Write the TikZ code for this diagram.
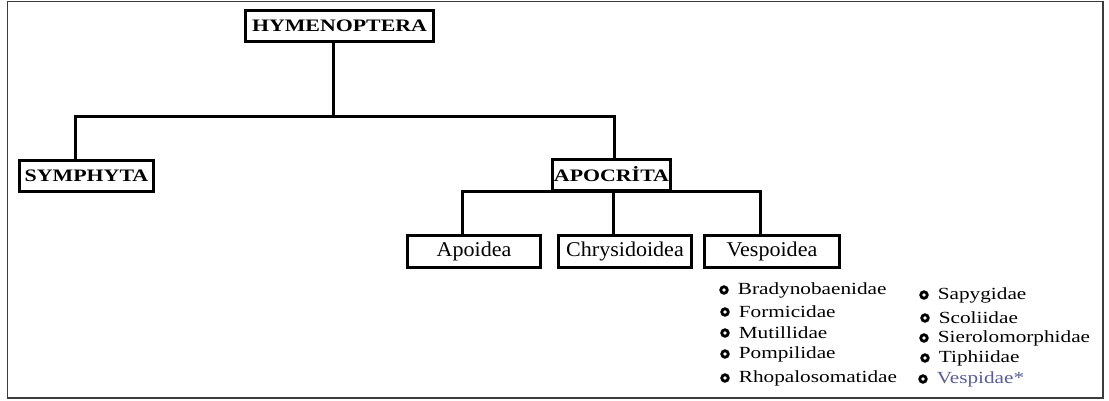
\documentclass[tikz,border=0pt]{standalone}
\usepackage{fontspec}
\setmainfont{Liberation Serif}
\newfontfamily\rankfont[FakeStretch=1.25]{Liberation Serif}
\newfontfamily\widefont[FakeStretch=1.05]{Liberation Serif}
\newfontfamily\listfont[FakeStretch=1.25]{Liberation Serif}
\usetikzlibrary{positioning}
\definecolor{framegray}{HTML}{3C3C3C}
\definecolor{starred}{HTML}{5A5E96}
\tikzset{
  % Upper ranks: bold capitals in a heavy box
  rankbox/.style={
    draw=black, line width=3pt, fill=white, inner sep=1pt,
    font=\rankfont\fontsize{17.5}{20}\selectfont\bfseries,
    minimum height=31pt, minimum width=#1},
  % Superfamilies: plain text in a heavy box
  superbox/.style={
    draw=black, line width=3pt, fill=white, inner sep=1pt,
    font=\widefont\fontsize{21}{24}\selectfont,
    minimum height=32pt, minimum width=#1},
  % Families listed under Vespoidea
  ring/.style={circle, draw=black, line width=2.8pt, minimum size=6.5pt, inner sep=0pt},
  fam/.style={font=\listfont\fontsize{17}{19}\selectfont, inner sep=1pt, anchor=west},
  link/.style={draw=black, line width=3pt},
}

\begin{document}
\begin{tikzpicture}[x=1pt, y=-1pt]

  \useasboundingbox (0,0) rectangle (1109,400);
  \draw[framegray, line width=1.4pt] (7.5,1.5) rectangle (1103,398);

  \node[rankbox=188pt] (hym) at (339.5,25.5) {HYMENOPTERA};
  \node[rankbox=134pt] (sym) at (86.5,176) {SYMPHYTA};
  \node[rankbox=118pt] (apo) at (611.5,174.5) {APOCRİTA};

  \node[superbox=133pt] (apoi) at (474,251) {Apoidea};
  \node[superbox=133pt] (chry) at (625,251) {Chrysidoidea};
  \node[superbox=135pt] (vesp) at (772,251.5) {Vespoidea};

  % first split
  \coordinate (split) at (333,116);
  \draw[link] (hym.south -| split) -- (split);
  \draw[link] ([xshift=-11.5pt]sym.north) |- (split) -| ([xshift=2.5pt]apo.north);

  % second split
  \draw[link] ([xshift=-12pt]apoi.north) |- (apo.south) -| ([xshift=-12pt]vesp.north);
  \draw[link] ([xshift=-12pt]chry.north |- apo.south) -- ([xshift=-12pt]chry.north);

  % families, two columns
  \foreach \fname/\bx/\by [count=\i] in {
      Bradynobaenidae/724/290, Formicidae/725/312, Mutillidae/725/333,
      Pompilidae/725/354, Rhopalosomatidae/725/378,
      Sapygidae/924/295, Scoliidae/925/318, Sierolomorphidae/924/338,
      Tiphiidae/925/358} {
    \node[ring] (b\i) at (\bx,\by) {};
    \node[fam, right=8pt of b\i] (f\i) {\fname};
  }
  \node[ring] (b10) at (923,379) {};
  \node[fam, right=8pt of b10, text=starred] (f10) {Vespidae*};

\end{tikzpicture}
\end{document}
